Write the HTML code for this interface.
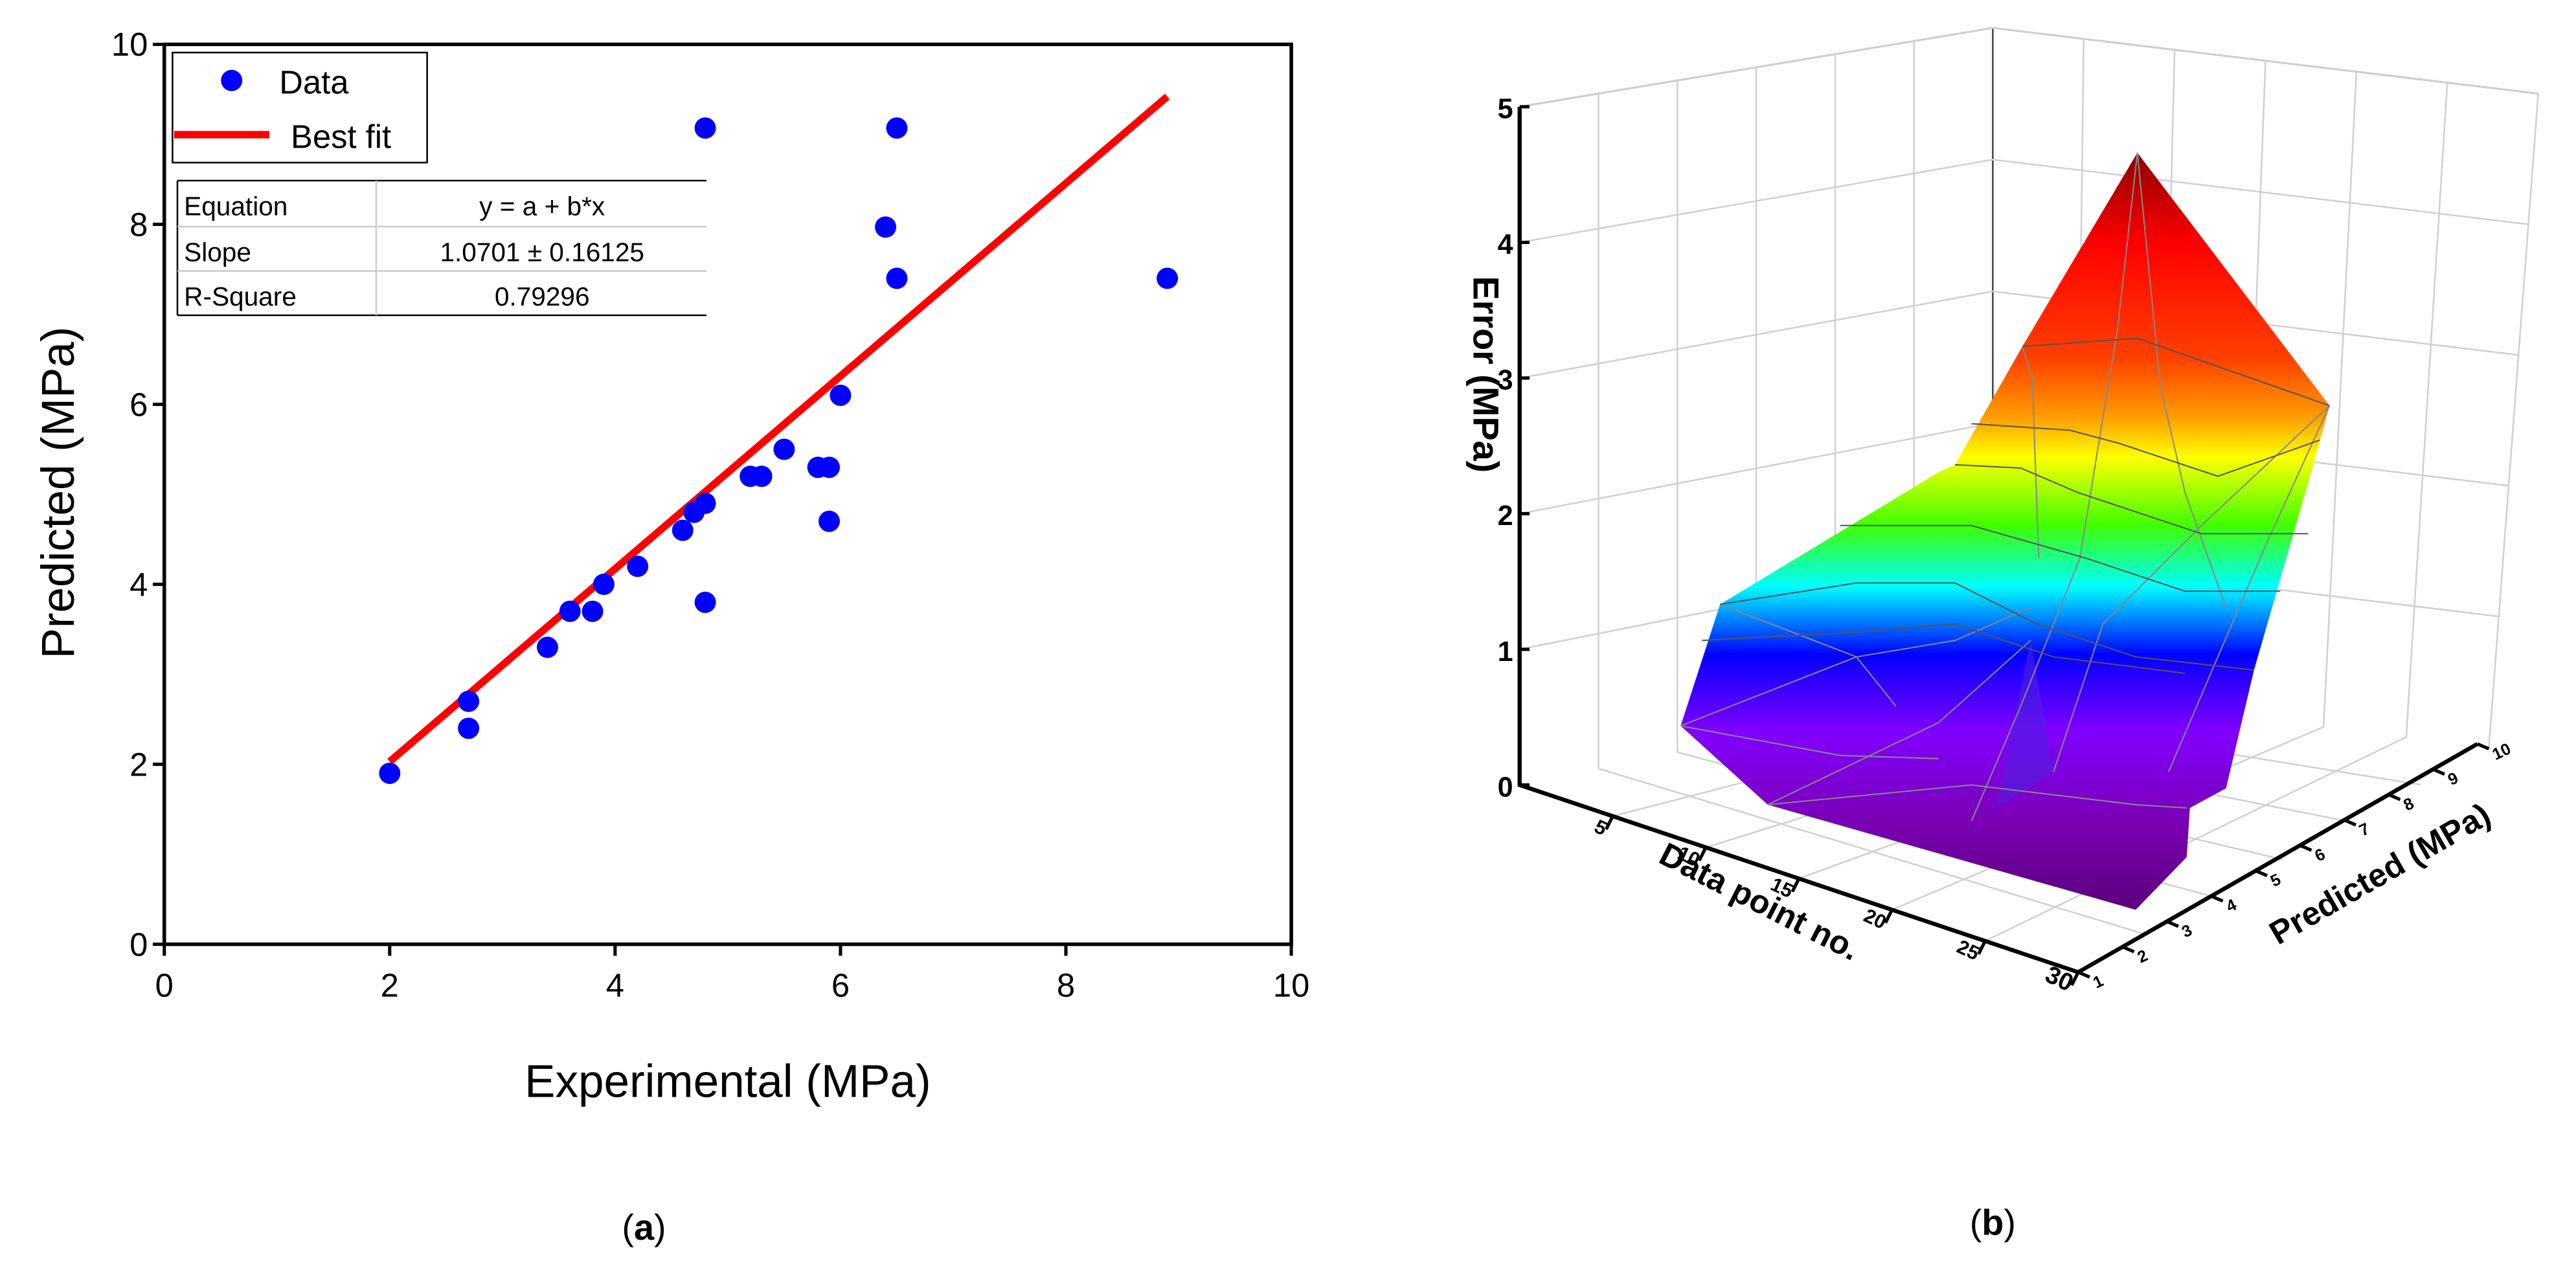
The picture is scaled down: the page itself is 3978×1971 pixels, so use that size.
<!DOCTYPE html>
<html><head><meta charset="utf-8"><style>
html,body{margin:0;padding:0;background:#fff}
svg{display:block}
text{font-family:"Liberation Sans",Arial,sans-serif}
</style></head><body>
<svg id="fig" width="3978" height="1971" viewBox="0 0 1568 777" preserveAspectRatio="none" xmlns="http://www.w3.org/2000/svg">
<defs>
<linearGradient id="surf" gradientUnits="userSpaceOnUse" x1="0" y1="93" x2="0" y2="556">
<stop offset="0" stop-color="#8b0000"/>
<stop offset="0.12" stop-color="#ff0000"/>
<stop offset="0.27" stop-color="#ff4000"/>
<stop offset="0.35" stop-color="#ffa000"/>
<stop offset="0.40" stop-color="#ffff00"/>
<stop offset="0.49" stop-color="#40ff00"/>
<stop offset="0.57" stop-color="#00ffff"/>
<stop offset="0.66" stop-color="#0000ff"/>
<stop offset="0.76" stop-color="#8000ff"/>
<stop offset="0.88" stop-color="#7a00b4"/>
<stop offset="1" stop-color="#5a0078"/>
</linearGradient>
</defs>
<g id="left"></g>
<g id="right"></g>
<text x="392" y="755" font-family="Liberation Serif" font-size="22" text-anchor="middle">(<tspan font-weight="bold">a</tspan>)</text>
<text x="1213" y="752" font-family="Liberation Serif" font-size="22" text-anchor="middle">(<tspan font-weight="bold">b</tspan>)</text>
</svg>
<script>
const NS="http://www.w3.org/2000/svg";
const expVals=[2,2.7,2.7,3.4,3.6,3.8,3.9,4.2,4.6,4.7,4.8,4.8,4.8,5.2,5.3,5.5,5.8,5.9,5.9,6.0,6.4,6.5,6.5,8.9];
const predVals=[1.9,2.7,2.4,3.3,3.7,3.7,4.0,4.2,4.6,4.8,4.9,3.8,9.07,5.2,5.2,5.5,5.3,5.3,4.7,6.1,7.97,7.4,9.07,7.4];
const fitX=[2,8.9];
const fitY=[2.03,9.42];
const xTicks=[0,2,4,6,8,10];
const yTicks=[0,2,4,6,8,10];
const zTicks=[0,1,2,3,4,5];
const dpTicks=[5,10,15,20,25,30];
const predTicks=[1,2,3,4,5,6,7,8,9,10];

function mk(p,tag,at,txt){const e=document.createElementNS(NS,tag);for(const k in at)e.setAttribute(k,at[k]);if(txt!=null)e.textContent=txt;p.appendChild(e);return e;}
const L=document.getElementById('left');
const sx=v=>100+v*68.6, sy=v=>575-v*54.8;
let a=mk(L,'path',{d:`M${sx(0)},${sy(10)}V${sy(0)}H${sx(10)}V${sy(10)}H${sx(0)}`,fill:'none',stroke:'#000','stroke-width':2.2});

xTicks.forEach(v=>{
 const t=mk(L,'line',{x1:sx(v),x2:sx(v),y1:sy(0),y2:sy(0)+7,stroke:'#000','stroke-width':2});
 
 const l=mk(L,'text',{x:sx(v),y:sy(0)+32,'font-size':20,'text-anchor':'middle'},v);
 
});
yTicks.forEach(v=>{
 const t=mk(L,'line',{x1:sx(0)-7,x2:sx(0),y1:sy(v),y2:sy(v),stroke:'#000','stroke-width':2});
 
 const l=mk(L,'text',{x:sx(0)-10,y:sy(v)+7,'font-size':20,'text-anchor':'end'},v);
 
});
let xt=mk(L,'text',{x:443,y:668,'font-size':28,'text-anchor':'middle'},'Experimental (MPa)');

let yt=mk(L,'text',{x:0,y:0,'font-size':28,'text-anchor':'middle',transform:'translate(45,300) rotate(-90)'},'Predicted (MPa)');

let fl=mk(L,'line',{x1:sx(fitX[0]),y1:sy(fitY[0]),x2:sx(fitX[1]),y2:sy(fitY[1]),stroke:'#ff0000','stroke-width':4.5});

expVals.forEach((v,i)=>{
 const c=mk(L,'circle',{cx:sx(v),cy:sy(predVals[i]),r:6.5,fill:'#0000ff'});
 
});
let lg=mk(L,'g',{});
mk(lg,'rect',{x:105,y:32,width:155,height:67,fill:'#fff',stroke:'#000','stroke-width':1});
mk(lg,'circle',{cx:141,cy:49,r:6.5,fill:'#0000ff'});
mk(lg,'text',{x:170,y:57,'font-size':20},'Data');
mk(lg,'line',{x1:106,x2:164,y1:82,y2:82,stroke:'#ff0000','stroke-width':4.5});
mk(lg,'text',{x:177,y:90,'font-size':20},'Best fit');
let tb=mk(L,'g',{});
mk(tb,'rect',{x:108,y:110,width:322,height:82,fill:'#fff',stroke:'none'});
mk(tb,'line',{x1:108,x2:430,y1:110,y2:110,stroke:'#000','stroke-width':1});
mk(tb,'line',{x1:108,x2:430,y1:192,y2:192,stroke:'#000','stroke-width':1});
mk(tb,'line',{x1:108,x2:108,y1:110,y2:192,stroke:'#000','stroke-width':1});
mk(tb,'line',{x1:229,x2:229,y1:110,y2:192,stroke:'#ccc','stroke-width':1});
mk(tb,'line',{x1:108,x2:430,y1:138,y2:138,stroke:'#ccc','stroke-width':1});
mk(tb,'line',{x1:108,x2:430,y1:165,y2:165,stroke:'#ccc','stroke-width':1});
[['Equation','y = a + b*x',131],['Slope','1.0701 \u00b1 0.16125',159],['R-Square','0.79296',186]].forEach(r=>{
 mk(tb,'text',{x:112,y:r[2],'font-size':16},r[0]);
 mk(tb,'text',{x:330,y:r[2],'font-size':16,'text-anchor':'middle'},r[1]);
});

const R=document.getElementById('right');
const lerp=(p,q,t)=>[p[0]+(q[0]-p[0])*t,p[1]+(q[1]-p[1])*t];
const LB=[925,478],LT=[925,65],CB=[1213,418],CT=[1213,17],RB=[1515,455],RT=[1545,57],FR=[1265,592];
const wall=mk(R,'g',{stroke:'#d0d0d0','stroke-width':1,fill:'none'});

mk(wall,'path',{d:`M${LT}L${CT}L${RT}M${CT}L${CB}`,stroke:'#444'});
for(let k=1;k<=5;k++){const t=k/5;const p=lerp(LB,LT,t),q=lerp(CB,CT,t),r=lerp(RB,RT,t);mk(wall,'path',{d:`M${p}L${q}L${r}`});}
for(let k=1;k<6;k++){const t=k/6;const b=lerp(LB,CB,t),tp=lerp(LT,CT,t);mk(wall,'path',{d:`M${b}L${tp}`});}
for(let k=1;k<=6;k++){const t=k/6;const b=lerp(CB,RB,t),tp=lerp(CT,RT,t);mk(wall,'path',{d:`M${b}L${tp}`});}
for(let k=1;k<6;k++){const t=k/6;mk(wall,'path',{d:`M${lerp(LB,FR,t)}L${lerp(CB,RB,t)}`});}
for(let k=1;k<6;k++){const t=k/6;mk(wall,'path',{d:`M${lerp(FR,RB,t)}L${lerp(LB,CB,t)}`});}
const surf=mk(R,'g',{});
const sil=[[1301,93],[1418,247],[1407,287],[1372,408],[1355,480],[1333,492],[1331,522],[1300,554],[1076,490],[1023,442],[1047,368],[1181,287],[1190,283],[1231,211]];
mk(surf,'polygon',{points:sil.map(p=>p.join(',')).join(' '),fill:'url(#surf)',stroke:'none'});
mk(surf,'polygon',{points:'1236,390 1250,470 1215,492',fill:'#5020e0',opacity:0.6});
const mesh=mk(surf,'g',{stroke:'#888','stroke-width':0.8,fill:'none'});
[[ [1231,211],[1237,230],[1241,340] ],[[1301,93],[1289,200],[1266,340],[1230,430],[1200,500]],[[1301,93],[1315,235],[1330,300],[1355,370]],
 [[1418,247],[1340,320],[1280,380],[1250,470]],[[1418,247],[1380,330],[1350,400],[1320,470]],
 [[1047,368],[1130,400],[1154,430]],[[1023,442],[1130,400],[1190,390],[1236,370]],[[1076,490],[1200,478],[1300,490],[1331,492]],
 [[1076,490],[1180,440],[1236,390]],[[1023,442],[1120,460],[1180,462]]
].forEach(pl=>mk(mesh,'polyline',{points:pl.map(p=>p.join(',')).join(' ')}));
const bands=mk(surf,'g',{stroke:'#555','stroke-width':0.8,fill:'none'});
[[[1231,211],[1301,206],[1418,247]],[[1200,258],[1260,262],[1290,270],[1350,290],[1412,268]],
 [[1190,283],[1230,285],[1265,300],[1340,325],[1405,325]],[[1120,320],[1200,320],[1270,340],[1330,360],[1388,360]],
 [[1047,368],[1130,355],[1190,355],[1240,380],[1300,400],[1372,408]],[[1036,390],[1130,385],[1190,380],[1250,400],[1330,410]]
].forEach(pl=>mk(bands,'polyline',{points:pl.map(p=>p.join(',')).join(' ')}));
const ax=mk(R,'g',{stroke:'#000','stroke-width':2.5,fill:'none'});

mk(ax,'path',{d:`M${LT}L${LB}L${FR}L${1508},${453}`});
zTicks.forEach((v,i)=>{const p=lerp(LB,LT,v/5);
 const t=mk(R,'line',{x1:p[0],y1:p[1],x2:p[0]+6,y2:p[1],stroke:'#000','stroke-width':2});
 
 const l=mk(R,'text',{x:p[0]-4,y:p[1]+7,'font-size':17,'font-weight':'bold','text-anchor':'end'},v);
 });
dpTicks.forEach(v=>{const p=lerp(LB,FR,v/30);
 const t=mk(R,'line',{x1:p[0],y1:p[1],x2:p[0]-4,y2:p[1]+8,stroke:'#000','stroke-width':2});
 
 const l=mk(R,'text',{x:0,y:0,'font-size':v==30?15:12,'font-weight':'bold','text-anchor':'end',transform:`translate(${p[0]-6},${p[1]+12}) rotate(25)`},v);
 });
predTicks.forEach(v=>{const p=lerp(FR,[1508,453],(v-1)/9);
 const t=mk(R,'line',{x1:p[0],y1:p[1],x2:p[0]+7,y2:p[1]+3,stroke:'#000','stroke-width':2});
 
 const l=mk(R,'text',{x:0,y:0,'font-size':10,'font-weight':'bold',transform:`translate(${p[0]+11},${p[1]+10}) rotate(-25)`},v);
 });
let t1=mk(R,'text',{x:0,y:0,'font-size':20,'font-weight':'bold','text-anchor':'middle',transform:'translate(1068,555) rotate(27)'},'Data point no.');

let t2=mk(R,'text',{x:0,y:0,'font-size':20,'font-weight':'bold','text-anchor':'middle',transform:'translate(1452,538) rotate(-30)'},'Predicted (MPa)');

let t3=mk(R,'text',{x:0,y:0,'font-size':22,'font-weight':'bold','text-anchor':'middle',transform:'translate(897,228) rotate(90)'},'Error (MPa)');

</script>
</body></html>
